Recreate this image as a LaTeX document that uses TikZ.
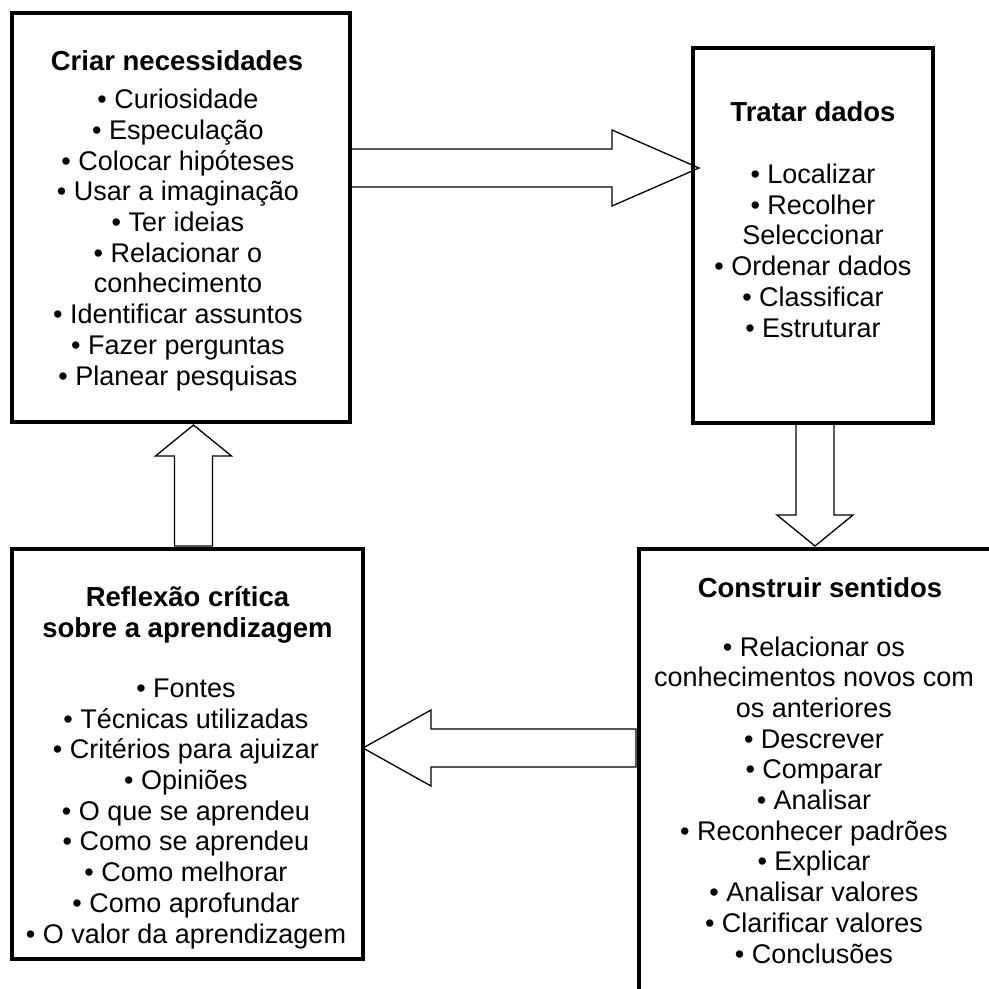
\documentclass[tikz,border=0pt]{standalone}
\usepackage{fontspec}
\setmainfont{Liberation Sans}
\usetikzlibrary{calc}
\tikzset{
  boxframe/.style={draw, line width=4pt, rectangle, outer sep=0pt, inner sep=0pt},
  txt/.style={font=\fontsize{27}{30.7}\selectfont, align=center, inner sep=0pt, anchor=base},
  ttl/.style={txt, font=\fontsize{27.5}{30.7}\selectfont\bfseries},
  barrow/.style={draw, line width=1.3pt, fill=white, line join=miter},
}
\newcommand{\blockarr}[3]{% #1 tail, #2 tip, #3 head length
  \path coordinate (bh) at ($(#2)!#3!(#1)$);
  \draw[barrow] ($(#1)!19pt!90:(#2)$) -- ($(bh)!19pt!-90:(#1)$) -- ($(bh)!38pt!-90:(#1)$)
    -- (#2) -- ($(bh)!38pt!90:(#1)$) -- ($(bh)!19pt!90:(#1)$) -- ($(#1)!19pt!-90:(#2)$) -- cycle;
}
\begin{document}
\begin{tikzpicture}[x=1pt,y=-1pt]
\useasboundingbox[fill=white] (0,0) rectangle (989,989);
% box positions
\path (181,217.5) node[boxframe, draw=none, minimum width=338pt, minimum height=409pt] (b1) {};
\path (813,235.5) node[boxframe, draw=none, minimum width=240pt, minimum height=375pt] (b2) {};
\path (815,780) node[boxframe, draw=none, minimum width=352pt, minimum height=462pt] (b3) {};
\path (187.5,754) node[boxframe, draw=none, minimum width=351pt, minimum height=410pt] (b4) {};
% arrows
\coordinate (a1s) at (b1.east |- 0,168);
\coordinate (a1e) at ($(b2.west |- 0,168)+(6,0)$);
\coordinate (a2s) at (b2.south -| 815,0);
\coordinate (a2e) at ($(b3.north -| 815,0)+(0,-3)$);
\coordinate (a3s) at ($(b3.west |- 0,748)+(-3,0)$);
\coordinate (a3e) at (b4.east |- 0,748);
\coordinate (a4s) at ($(b4.north -| 193.5,0)+(0,-3)$);
\coordinate (a4e) at ($(b1.south -| 193.5,0)+(0,3)$);
\blockarr{a1s}{a1e}{87pt}
\blockarr{a2s}{a2e}{31pt}
\blockarr{a3s}{a3e}{68pt}
\blockarr{a4s}{a4e}{31pt}
% frames
\draw[line width=4pt] (b1.south west) rectangle (b1.north east);
\draw[line width=4pt] (b2.south west) rectangle (b2.north east);
\draw[line width=4pt] (b4.south west) rectangle (b4.north east);
\begin{scope}
\clip (0,0) rectangle (989,989);
\draw[line width=4pt] (b3.south west) rectangle (b3.north east);
\end{scope}
% texts (anchor = baseline of last line)
\node[ttl] (t1) at (177,70) {Criar necessidades};
\node[txt] (l1) at (178,385) {• Curiosidade\\• Especulação\\• Colocar hipóteses\\• Usar a imaginação\\• Ter ideias\\• Relacionar o\\conhecimento\\• Identificar assuntos\\• Fazer perguntas\\• Planear pesquisas};
\node[ttl] (t2) at (813,121) {Tratar dados};
\node[txt] (l2) at (813,337) {• Localizar\\• Recolher\\Seleccionar\\• Ordenar dados\\• Classificar\\• Estruturar};
\node[ttl] (t3) at (820,597) {Construir sentidos};
\node[txt] (l3) at (814,963) {• Relacionar os\\conhecimentos novos com\\os anteriores\\• Descrever\\• Comparar\\• Analisar\\• Reconhecer padrões\\• Explicar\\• Analisar valores\\• Clarificar valores\\• Conclusões};
\node[ttl] (t4) at (187.5,637) {Reflexão crítica\\sobre a aprendizagem};
\node[txt] (l4) at (186,943) {• Fontes\\• Técnicas utilizadas\\• Critérios para ajuizar\\• Opiniões\\• O que se aprendeu\\• Como se aprendeu\\• Como melhorar\\• Como aprofundar\\• O valor da aprendizagem};
\end{tikzpicture}
\end{document}
